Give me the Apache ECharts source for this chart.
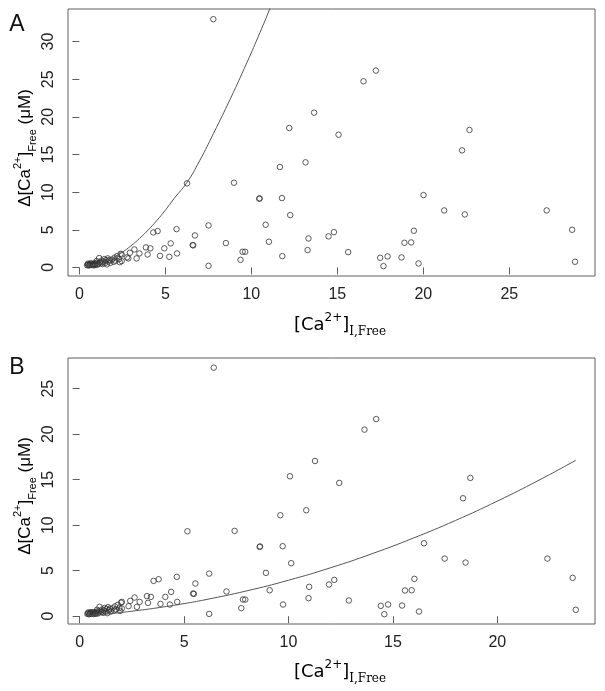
<!DOCTYPE html>
<html><head><meta charset="utf-8">
<script src="https://cdn.jsdelivr.net/npm/echarts@6/dist/echarts.min.js"></script>
<style>html,body{margin:0;padding:0;background:#fff}#c{width:605px;height:691px}</style>
</head><body><div id="c"></div>
<script>
// ---------- Panel A data ----------
const aPtsX = [0.45,0.50,0.55,0.60,0.62,0.70,0.75,0.80,0.85,0.90,0.95,1.00,1.05,1.10,1.15,1.20,1.25,1.30,1.35,1.40,1.50,1.55,1.60,1.70,1.75,1.80,1.90,2.00,2.05,2.10,2.20,2.30,2.35,2.40,0.50,0.65,0.90,1.00,1.45,1.65,
  2.46,2.46,2.77,2.85,2.94,3.20,3.33,3.49,3.87,4.13,3.97,4.30,4.55,4.69,4.94,5.23,5.31,5.65,5.68,6.26,6.59,6.62,6.72,7.51,7.51,7.79,8.52,8.99,9.37,9.49,9.64,10.46,10.48,10.83,11.02,11.66,11.78,11.80,12.20,12.26,13.15,13.27,13.32,13.65,14.49,14.80,15.07,15.63,16.52,17.24,17.49,17.68,17.92,18.73,18.90,19.29,19.45,19.72,20.01,21.21,22.25,22.41,22.68,27.17,28.65,28.82];
const aPtsY = [0.30,0.38,0.25,0.42,0.32,0.35,0.50,0.28,0.45,0.55,0.40,0.62,0.35,0.50,1.25,0.70,0.55,0.90,0.45,0.75,0.60,0.95,0.40,0.80,1.00,0.60,1.05,0.75,1.30,0.90,1.50,1.10,0.70,1.80,0.50,0.55,0.30,0.85,1.10,1.20,
  1.72,0.84,1.33,1.20,1.95,2.39,1.20,1.86,2.66,2.53,1.72,4.65,4.83,1.54,2.53,1.41,3.19,5.09,1.86,11.17,2.97,2.93,4.25,5.58,0.21,32.98,3.23,11.25,1.01,2.08,2.08,9.12,9.18,5.67,3.41,13.34,9.21,1.50,18.52,6.95,13.96,2.30,3.85,20.56,4.12,4.69,17.63,2.03,24.73,26.15,1.28,0.17,1.46,1.33,3.27,3.32,4.87,0.53,9.61,7.57,15.55,7.04,18.26,7.57,5.00,0.75];
const aCurveX = [0.45,1.0,1.5,2.0,2.5,3.0,3.5,4.0,4.5,5.0,5.5,6.26,7.0,7.8,8.8,9.74,10.5,11.06,11.3];
const aCurveY = [0.08,0.36,0.77,1.32,2.02,2.87,3.85,4.97,6.22,7.60,9.13,11.3,14.2,17.8,22.5,27.2,31.2,34.3,35.9];
const aTicksX = [0,5,10,15,20,25];
const aTicksY = [0,5,10,15,20,25,30];

// ---------- Panel B data ----------
const bPtsX = [0.37,0.41,0.45,0.50,0.51,0.58,0.62,0.66,0.70,0.74,0.79,0.83,0.87,0.91,0.95,0.99,1.03,1.07,1.12,1.16,1.24,1.28,1.32,1.40,1.45,1.49,1.57,1.65,1.69,1.74,1.82,1.90,1.94,1.98,0.41,0.54,0.74,0.83,1.20,1.36,
  2.02,2.02,2.34,2.42,2.63,2.74,2.87,3.22,3.41,3.27,3.54,3.78,3.87,4.10,4.32,4.38,4.65,4.67,5.16,5.43,5.47,5.54,6.20,6.20,6.42,7.03,7.42,7.74,7.82,7.93,8.62,8.64,8.92,9.10,9.61,9.72,9.74,10.07,10.13,10.85,10.96,10.99,11.27,11.94,12.19,12.43,12.89,13.64,14.20,14.42,14.59,14.77,15.44,15.58,15.90,16.03,16.25,16.49,17.48,18.36,18.48,18.71,22.40,23.61,23.76];
const bPtsY = [0.25,0.31,0.21,0.35,0.26,0.29,0.41,0.23,0.37,0.45,0.33,0.51,0.29,0.41,1.03,0.58,0.45,0.74,0.37,0.62,0.50,0.79,0.33,0.66,0.83,0.50,0.87,0.62,1.07,0.74,1.24,0.91,0.58,1.49,0.41,0.45,0.25,0.70,0.91,0.99,
  1.57,0.85,1.10,1.68,2.05,1.02,1.57,2.20,2.12,1.46,3.88,4.06,1.35,2.12,1.28,2.67,4.32,1.57,9.33,2.49,2.45,3.59,4.68,0.25,27.31,2.71,9.37,0.88,1.83,1.83,7.61,7.66,4.76,2.85,11.09,7.69,1.28,15.37,5.82,11.64,1.98,3.22,17.05,3.48,3.99,14.64,1.72,20.50,21.66,1.13,0.22,1.28,1.17,2.82,2.85,4.10,0.51,8.01,6.33,12.96,5.89,15.19,6.33,4.21,0.70];
const bCurveX = [0.37,1.0,2.0,3.0,4.0,5.0,6.0,8.0,10.0,12.0,14.0,16.0,18.0,20.0,22.0,23.76];
const bCurveY = [0.06,0.18,0.41,0.69,1.01,1.38,1.80,2.78,3.95,5.31,6.86,8.60,10.52,12.64,14.95,17.13];
const bTicksX = [0,5,10,15,20];
const bTicksY = [0,5,10,15,20,25];

const zip = (xs, ys) => xs.map((x, i) => [x, ys[i]]);

const FONT = 'Liberation Sans, Arial, sans-serif';
const boxColor = '#5e5e5e';

function xAxisCfg(gi, min, max, ticks) {
  return {
    type: 'value', gridIndex: gi, min: min, max: max,
    axisLine: {show: false}, splitLine: {show: false},
    axisTick: {show: true, customValues: ticks, length: 7, inside: false, lineStyle: {color: boxColor, width: 1}},
    axisLabel: {customValues: ticks, fontSize: 16, color: '#222', margin: 11, fontFamily: FONT}
  };
}
function yAxisCfg(gi, min, max, ticks) {
  return {
    type: 'value', gridIndex: gi, min: min, max: max,
    axisLine: {show: false}, splitLine: {show: false},
    axisTick: {show: true, customValues: ticks, length: 7, inside: false, lineStyle: {color: boxColor, width: 1}},
    axisLabel: {customValues: ticks, fontSize: 16, color: '#222', margin: 11, rotate: 90, fontFamily: FONT}
  };
}
const scatterStyle = {color: 'rgba(0,0,0,0)', borderColor: '#333', borderWidth: 1};

const yTitleRich = {
  a: {fontSize: 17, fontFamily: FONT, color: '#222', lineHeight: 26, verticalAlign: 'middle'},
  sup: {fontSize: 11, fontFamily: FONT, color: '#222', lineHeight: 14, verticalAlign: 'top'},
  sub: {fontSize: 11, fontFamily: FONT, color: '#222', lineHeight: 14, verticalAlign: 'bottom'}
};
const xTitleRich = {
  a: {fontSize: 18, fontFamily: 'DejaVu Sans, sans-serif', color: '#222', lineHeight: 26, verticalAlign: 'middle'},
  sup: {fontSize: 12, fontFamily: 'DejaVu Sans, sans-serif', color: '#222', lineHeight: 14, verticalAlign: 'top'},
  sub: {fontSize: 12, fontFamily: 'DejaVu Serif, serif', color: '#222', lineHeight: 14, verticalAlign: 'bottom'}
};
const yTitleText = '{a|Δ[Ca}{sup|2+}{a|]}{sub|Free}{a| (μM)}';
const xTitleText = '{a|[Ca}{sup|2+}{a|]}{sub|I,Free}';

const chart = echarts.init(document.getElementById('c'), null, {renderer: 'canvas'});
chart.setOption({
  animation: false,
  backgroundColor: '#fff',
  grid: [
    {left: 68, right: 10, top: 9, height: 267, show: true, borderColor: boxColor, borderWidth: 1, backgroundColor: 'transparent'},
    {left: 68, right: 10, top: 358, height: 266, show: true, borderColor: boxColor, borderWidth: 1, backgroundColor: 'transparent'}
  ],
  xAxis: [xAxisCfg(0, -0.66, 29.98, aTicksX), xAxisCfg(1, -0.56, 24.68, bTicksX)],
  yAxis: [yAxisCfg(0, -1.14, 34.33, aTicksY), yAxisCfg(1, -0.86, 28.37, bTicksY)],
  series: [
    {type: 'scatter', xAxisIndex: 0, yAxisIndex: 0, data: zip(aPtsX, aPtsY), symbol: 'circle', symbolSize: 5.5, itemStyle: scatterStyle, silent: true},
    {type: 'line', xAxisIndex: 0, yAxisIndex: 0, data: zip(aCurveX, aCurveY), showSymbol: false, smooth: true, clip: true, lineStyle: {color: '#555', width: 1}, silent: true},
    {type: 'scatter', xAxisIndex: 1, yAxisIndex: 1, data: zip(bPtsX, bPtsY), symbol: 'circle', symbolSize: 5.5, itemStyle: scatterStyle, silent: true},
    {type: 'line', xAxisIndex: 1, yAxisIndex: 1, data: zip(bCurveX, bCurveY), showSymbol: false, smooth: true, clip: true, lineStyle: {color: '#555', width: 1}, silent: true}
  ],
  graphic: [
    {type: 'text', x: 17, y: 25, style: {text: 'A', fontSize: 23, fontFamily: FONT, fill: '#111', align: 'center', verticalAlign: 'middle'}},
    {type: 'text', x: 17, y: 368, style: {text: 'B', fontSize: 23, fontFamily: FONT, fill: '#111', align: 'center', verticalAlign: 'middle'}},
    {type: 'text', x: 25, y: 148, rotation: Math.PI / 2, style: {text: yTitleText, rich: yTitleRich, align: 'center', verticalAlign: 'middle'}},
    {type: 'text', x: 25, y: 496, rotation: Math.PI / 2, style: {text: yTitleText, rich: yTitleRich, align: 'center', verticalAlign: 'middle'}},
    {type: 'text', x: 340, y: 325, style: {text: xTitleText, rich: xTitleRich, align: 'center', verticalAlign: 'middle'}},
    {type: 'text', x: 340, y: 672, style: {text: xTitleText, rich: xTitleRich, align: 'center', verticalAlign: 'middle'}}
  ]
});
</script></body></html>
